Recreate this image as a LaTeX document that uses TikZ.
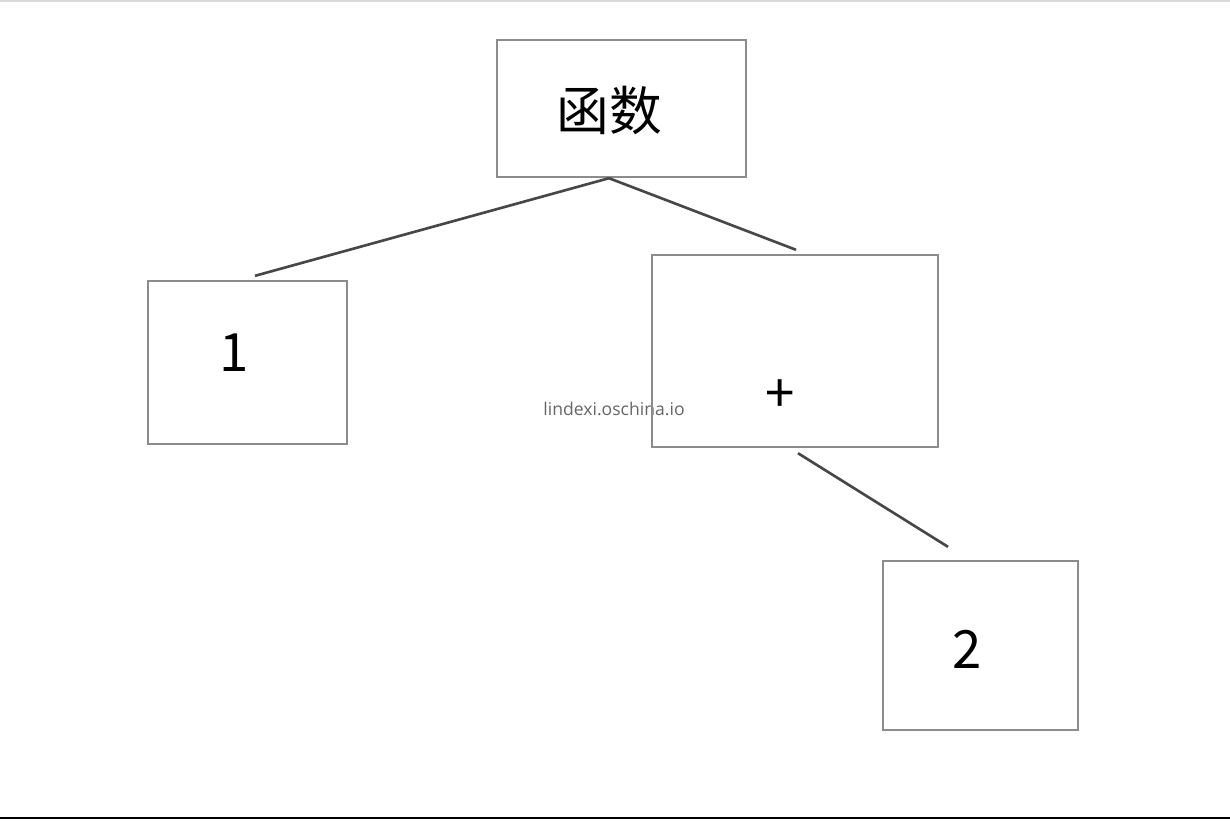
\documentclass[tikz,border=0pt]{standalone}
\usepackage{fontspec}
\setmainfont{Noto Sans CJK SC}
\newfontfamily\wmfont{Open Sans}
\usetikzlibrary{positioning}

\begin{document}
\begin{tikzpicture}[x=0.01cm,y=-0.01cm,
	box/.style={draw=gray!90,line width=0.65pt,rectangle,inner sep=0pt},
	edge/.style={draw=black!72,line width=0.75pt},
	txt/.style={font=\fontsize{15}{18}\selectfont,inner sep=0pt}]
	
	\useasboundingbox (0,0) rectangle (1230,820);
	\draw[gray!30,line width=0.3pt] (0,1) -- (1230,1);
	\draw[black,line width=0.6pt] (0,818) -- (1230,818);
	
	% watermark under the boxes
	\node[black!60,font=\wmfont\fontsize{5}{6}\selectfont,inner sep=0pt] (wm) at (614,409) {lindexi.oschina.io};
	
	\node[box,minimum width=2.49cm,minimum height=1.37cm] (fn) at (621.5,108.5) {};
	\node[box,minimum width=1.99cm,minimum height=1.63cm] (one) at (247.5,362.5) {};
	\node[box,minimum width=2.86cm,minimum height=1.92cm] (plus) at (795,351) {};
	\node[box,minimum width=1.95cm,minimum height=1.69cm] (two) at (980.5,645.5) {};
	
	\node[txt] (fnt) at (609,110) {函数};
	\node[txt] (onet) at (234,353) {1};
	\node[txt] (plust) at (780,396) {+};
	\node[txt] (twot) at (967,649) {2};
	
	\coordinate (fnb) at ([xshift=-0.125cm]fn.south);
	\coordinate (oneu) at ([xshift=0.075cm,yshift=0.04cm]one.north);
	\coordinate (plusu) at ([xshift=0.01cm,yshift=0.04cm]plus.north);
	\coordinate (plusb) at ([xshift=0.03cm,yshift=-0.05cm]plus.south);
	\coordinate (twou) at ([xshift=-0.325cm,yshift=0.13cm]two.north);
	
	\draw[edge] (fnb) -- (oneu);
	\draw[edge] (fnb) -- (plusu);
	\draw[edge] (plusb) -- (twou);
	
\end{tikzpicture}
\end{document}
